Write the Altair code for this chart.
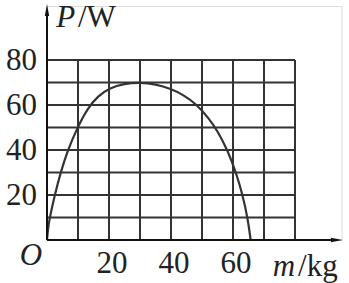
import altair as alt
import pandas as pd

# curve readings
mass = [0, 0.3, 0.9, 2.5, 4.4, 6.6, 9.8, 13.2, 16.5, 20, 25, 30, 35, 40, 44, 48, 52, 55, 58.2, 61, 63.1, 64.7, 65.7]
power = [0, 5, 10, 20, 30, 39.6, 50, 58.8, 64, 67.5, 69.5, 70, 69.3, 67.2, 64.5, 60.6, 54.5, 48.5, 40, 30, 20, 10, 0]

grid_vals = [0, 10, 20, 30, 40, 50, 60, 70, 80]
x_ticks = [20, 40, 60]
y_ticks = [20, 40, 60, 80]

FONT = "Liberation Serif"
FS = 31
INK = "#333333"

xs = alt.Scale(domain=[0, 95], nice=False, zero=False)
ys = alt.Scale(domain=[0, 104], nice=False, zero=False)

def X(f="m"):
    return alt.X(f"{f}:Q", scale=xs, axis=None)

def Y(f="p"):
    return alt.Y(f"{f}:Q", scale=ys, axis=None)

vgrid = alt.Chart(pd.DataFrame({"m": grid_vals, "p0": [0]*9, "p1": [80]*9})).mark_rule(
    color=INK, strokeWidth=2).encode(x=X(), y=Y("p0"), y2="p1:Q")
hgrid = alt.Chart(pd.DataFrame({"p": grid_vals, "m0": [0]*9, "m1": [80]*9})).mark_rule(
    color=INK, strokeWidth=2).encode(y=Y(), x=X("m0"), x2="m1:Q")

xaxis = alt.Chart(pd.DataFrame({"m0": [0], "m1": [93], "p": [0]})).mark_rule(
    color="#111", strokeWidth=2).encode(x=X("m0"), x2="m1:Q", y=Y())
yaxis = alt.Chart(pd.DataFrame({"m": [0], "p0": [0], "p1": [101]})).mark_rule(
    color="#111", strokeWidth=2).encode(x=X(), y=Y("p0"), y2="p1:Q")

xarrow = alt.Chart(pd.DataFrame({"m": [93.5], "p": [0]})).mark_point(
    shape="M1,0L-1,-0.36L-1,0.36Z", filled=True, color="#111", opacity=1, size=144
).encode(x=X(), y=Y())
yarrow = alt.Chart(pd.DataFrame({"m": [0], "p": [102.2]})).mark_point(
    shape="M0,-1L-0.36,1L0.36,1Z", filled=True, color="#111", opacity=1, size=144
).encode(x=X(), y=Y())

curve = alt.Chart(pd.DataFrame({"m": mass, "p": power})).mark_line(
    color=INK, strokeWidth=2.2, interpolate="basis").encode(x=X(), y=Y())

xlab = alt.Chart(pd.DataFrame({"m": x_ticks, "p": [0]*3, "t": [str(v) for v in x_ticks]})).mark_text(
    font=FONT, fontSize=FS, align="center", baseline="alphabetic", dx=3, dy=33, color="#222"
).encode(x=X(), y=Y(), text="t:N")
ylab = alt.Chart(pd.DataFrame({"m": [0]*4, "p": y_ticks, "t": [str(v) for v in y_ticks]})).mark_text(
    font=FONT, fontSize=FS, align="right", baseline="middle", dx=-10, dy=1, color="#222"
).encode(x=X(), y=Y(), text="t:N")

def label(txt, m, p, italic=False, align="left"):
    return alt.Chart(pd.DataFrame({"m": [m], "p": [p], "t": [txt]})).mark_text(
        font=FONT, fontSize=FS, fontStyle="italic" if italic else "normal",
        align=align, baseline="alphabetic", color="#222"
    ).encode(x=X(), y=Y(), text="t:N")

origin = label("O", -5.2, -11, italic=True, align="center")
p_lab = label("P", 3.0, 94.8, italic=True)
w_lab = label("/W", 10.0, 94.8)
m_lab = label("m", 72.8, -16, italic=True)
kg_lab = label("/kg", 81.0, -16)

chart = alt.layer(
    vgrid, hgrid, curve, xaxis, yaxis, xarrow, yarrow, xlab, ylab, origin, p_lab, w_lab, m_lab, kg_lab
).properties(
    width=294.5, height=234,
    autosize=alt.AutoSizeParams(type="none"),
    padding={"left": 47, "top": 6, "right": 7.5, "bottom": 43},
).configure_view(stroke=None).configure(background="white")

chart.save("out.html", embed_options={"renderer": "svg", "actions": False})
